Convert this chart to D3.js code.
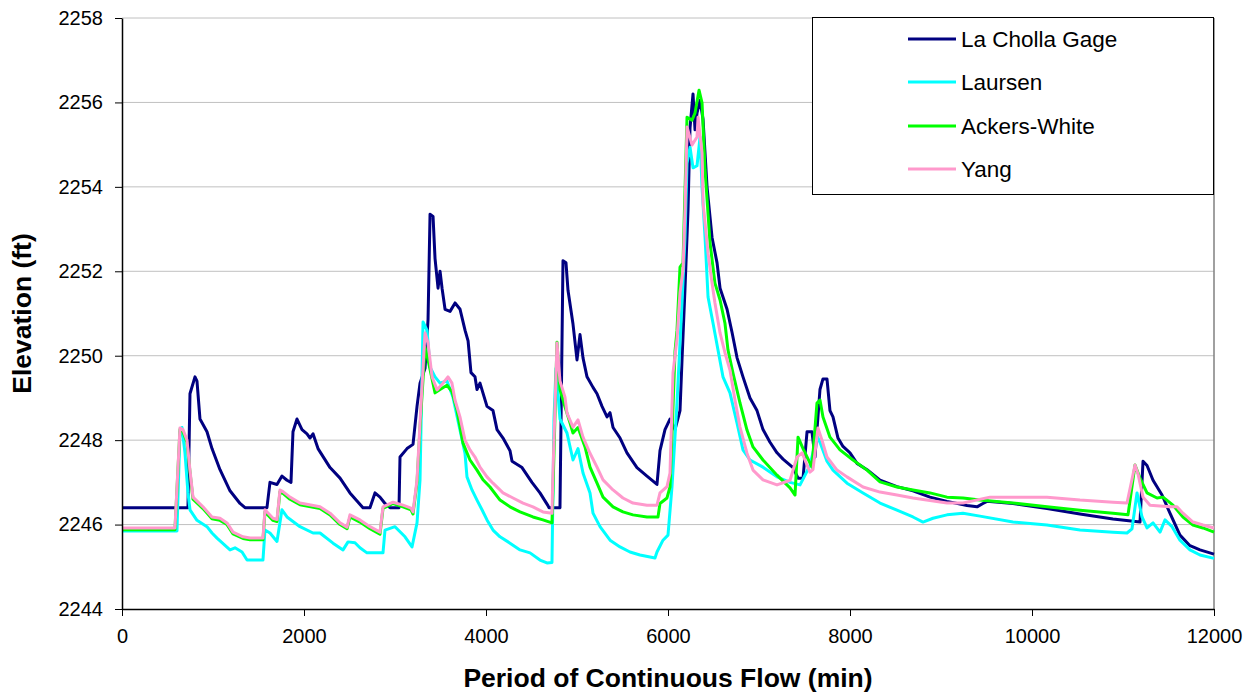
<html>
  <head>
    <script src="https://cdn.jsdelivr.net/npm/d3@7"></script>
    <style>
      body { margin: 0; background: #fff; }
      text { font-family: "Liberation Sans", Arial, sans-serif; }
    </style>
  </head>
  <body>
    <script>
      // series: [minutes, elevation ft]
      const laChollaGage = [
        [0,2246.4],[725,2246.4],[747,2249.1],[802,2249.5],[824,2249.4],[857,2248.5],[934,2248.2],[989,2247.8],
        [1077,2247.3],[1187,2246.8],[1297,2246.5],[1352,2246.4],[1593,2246.4],[1626,2247.0],[1703,2246.95],
        [1758,2247.15],[1813,2247.05],[1857,2247.0],[1879,2248.2],[1923,2248.5],[1978,2248.25],[2033,2248.15],
        [2066,2248.05],[2099,2248.15],[2154,2247.8],[2286,2247.35],[2396,2247.1],[2505,2246.75],[2648,2246.4],
        [2725,2246.4],[2780,2246.75],[2835,2246.65],[2890,2246.5],[2945,2246.4],[3044,2246.4],[3055,2247.6],
        [3132,2247.8],[3198,2247.9],[3242,2248.8],[3275,2249.35],[3330,2249.7],[3363,2250.85],[3385,2253.35],
        [3418,2253.3],[3440,2252.3],[3473,2251.6],[3495,2252.0],[3517,2251.6],[3550,2251.1],[3605,2251.05],
        [3660,2251.25],[3715,2251.1],[3770,2250.6],[3803,2250.35],[3835,2249.6],[3879,2249.5],[3901,2249.2],
        [3934,2249.35],[4011,2248.8],[4077,2248.7],[4121,2248.25],[4187,2248.05],[4264,2247.75],[4286,2247.5],
        [4396,2247.35],[4505,2247.0],[4593,2246.75],[4681,2246.45],[4692,2246.4],[4813,2246.4],[4846,2252.25],
        [4879,2252.2],[4901,2251.55],[4956,2250.75],[5000,2249.9],[5033,2250.5],[5066,2249.95],[5110,2249.5],
        [5176,2249.25],[5220,2249.1],[5275,2248.8],[5330,2248.55],[5363,2248.65],[5396,2248.3],[5473,2248.05],
        [5549,2247.7],[5659,2247.35],[5769,2247.15],[5879,2246.95],[5912,2247.75],[5967,2248.25],[6022,2248.5],
        [6077,2248.25],[6132,2248.7],[6154,2249.9],[6187,2251.6],[6220,2253.45],[6242,2255.4],[6275,2256.2],
        [6297,2255.35],[6319,2255.75],[6352,2256.05],[6385,2255.6],[6429,2254.0],[6484,2252.8],[6539,2252.2],
        [6572,2251.6],[6649,2251.1],[6704,2250.55],[6759,2249.95],[6824,2249.5],[6901,2249.0],[6978,2248.7],
        [7044,2248.25],[7121,2247.95],[7198,2247.7],[7264,2247.55],[7374,2247.35],[7429,2247.1],[7484,2247.1],
        [7528,2248.2],[7582,2248.2],[7615,2247.6],[7670,2249.2],[7703,2249.45],[7747,2249.45],[7780,2248.7],
        [7813,2248.55],[7868,2248.05],[7923,2247.85],[8000,2247.7],[8077,2247.45],[8187,2247.3],[8330,2247.05],
        [8516,2246.9],[8692,2246.8],[8879,2246.65],[9066,2246.55],[9286,2246.45],[9396,2246.42],[9461,2246.5],
        [9505,2246.55],[9791,2246.5],[10165,2246.38],[10527,2246.25],[10890,2246.13],[11187,2246.06],
        [11220,2247.5],[11264,2247.4],[11330,2247.05],[11429,2246.7],[11516,2246.27],[11626,2245.75],
        [11736,2245.5],[11846,2245.4],[12000,2245.3]
      ];
      const laursen = [
        [0,2245.85],[604,2245.85],[637,2248.2],[659,2248.3],[692,2247.7],[725,2246.75],[747,2246.35],[824,2246.1],
        [934,2245.95],[989,2245.8],[1044,2245.68],[1187,2245.4],[1242,2245.45],[1319,2245.35],[1374,2245.16],
        [1549,2245.16],[1571,2245.87],[1626,2245.8],[1703,2245.6],[1758,2246.35],[1813,2246.18],[1956,2245.95],
        [2099,2245.8],[2176,2245.8],[2319,2245.56],[2429,2245.4],[2484,2245.59],[2560,2245.57],[2615,2245.45],
        [2692,2245.33],[2868,2245.33],[2890,2245.87],[3000,2245.95],[3110,2245.71],[3187,2245.47],[3242,2246.04],
        [3275,2247.06],[3308,2250.8],[3352,2250.6],[3385,2249.73],[3440,2249.5],[3495,2249.35],[3571,2249.4],
        [3637,2249.02],[3714,2248.24],[3769,2247.69],[3791,2247.13],[3846,2246.82],[3901,2246.58],[3956,2246.35],
        [4011,2246.11],[4077,2245.87],[4154,2245.71],[4264,2245.56],[4374,2245.4],[4484,2245.33],[4593,2245.16],
        [4670,2245.09],[4725,2245.1],[4747,2248.5],[4769,2249.7],[4813,2248.5],[4890,2248.17],[4956,2247.53],
        [5011,2247.8],[5066,2247.22],[5143,2246.75],[5176,2246.27],[5253,2245.95],[5363,2245.63],[5473,2245.47],
        [5582,2245.35],[5692,2245.28],[5857,2245.21],[5879,2245.35],[5945,2245.63],[6000,2245.75],[6044,2246.9],
        [6099,2248.88],[6154,2251.25],[6187,2252.81],[6209,2254.56],[6242,2254.94],[6275,2254.45],[6319,2254.5],
        [6352,2255.18],[6374,2254.0],[6407,2252.81],[6440,2251.39],[6495,2250.77],[6549,2250.14],[6604,2249.5],
        [6681,2249.12],[6758,2248.41],[6824,2247.77],[6901,2247.53],[7044,2247.36],[7198,2247.13],[7341,2247.0],
        [7451,2246.94],[7560,2247.4],[7637,2248.1],[7670,2247.95],[7747,2247.5],[7813,2247.29],[7967,2246.98],
        [8143,2246.75],[8330,2246.51],[8516,2246.34],[8692,2246.18],[8802,2246.06],[8912,2246.15],[9066,2246.23],
        [9242,2246.27],[9428,2246.2],[9791,2246.06],[10165,2245.99],[10527,2245.87],[10890,2245.82],
        [11044,2245.8],[11099,2245.9],[11154,2246.75],[11209,2246.18],[11264,2245.92],[11330,2246.04],
        [11407,2245.82],[11462,2246.11],[11539,2245.95],[11626,2245.63],[11736,2245.4],[11846,2245.28],[12000,2245.2]
      ];
      const ackersWhite = [
        [0,2245.88],[582,2245.88],[637,2248.25],[670,2248.2],[714,2247.95],[747,2247.25],[780,2246.6],[890,2246.38],
        [989,2246.14],[1077,2246.1],[1154,2246.0],[1220,2245.78],[1330,2245.67],[1407,2245.64],[1549,2245.64],
        [1571,2246.3],[1659,2246.1],[1703,2246.07],[1736,2246.78],[1769,2246.74],[1846,2246.6],[1956,2246.47],
        [2176,2246.38],[2286,2246.23],[2396,2246.0],[2473,2245.9],[2505,2246.18],[2615,2246.06],[2725,2245.9],
        [2835,2245.77],[2868,2246.38],[2978,2246.5],[3088,2246.42],[3176,2246.35],[3198,2246.25],[3242,2247.0],
        [3275,2248.3],[3330,2250.2],[3363,2249.9],[3440,2249.12],[3495,2249.2],[3571,2249.3],[3626,2249.15],
        [3681,2248.71],[3747,2247.93],[3824,2247.53],[3901,2247.29],[3967,2247.06],[4044,2246.89],[4154,2246.58],
        [4264,2246.42],[4374,2246.3],[4516,2246.18],[4626,2246.11],[4725,2246.04],[4736,2246.8],[4780,2250.32],
        [4813,2249.2],[4868,2248.79],[4923,2248.41],[4956,2248.17],[5011,2248.3],[5088,2247.84],[5143,2247.36],
        [5220,2246.98],[5286,2246.65],[5396,2246.42],[5505,2246.3],[5615,2246.23],[5769,2246.18],[5890,2246.18],
        [5912,2246.5],[5989,2246.63],[6022,2246.89],[6055,2248.79],[6077,2250.1],[6099,2250.6],[6132,2252.1],
        [6165,2252.2],[6209,2255.65],[6264,2255.58],[6297,2255.75],[6341,2256.29],[6374,2255.99],[6407,2254.4],
        [6462,2252.67],[6516,2251.72],[6572,2251.32],[6626,2250.77],[6659,2250.14],[6714,2249.59],[6791,2248.88],
        [6868,2248.24],[6934,2247.84],[7044,2247.53],[7198,2247.17],[7341,2246.87],[7396,2246.7],[7429,2248.07],
        [7484,2247.8],[7582,2247.36],[7637,2248.88],[7670,2248.95],[7703,2248.55],[7780,2248.07],[7890,2247.77],
        [8033,2247.53],[8187,2247.29],[8330,2247.01],[8516,2246.89],[8692,2246.82],[8879,2246.75],[9066,2246.65],
        [9242,2246.63],[9428,2246.58],[9791,2246.51],[10165,2246.42],[10527,2246.34],[10890,2246.27],
        [11055,2246.23],[11132,2247.41],[11187,2247.1],[11264,2246.75],[11374,2246.63],[11440,2246.65],
        [11549,2246.46],[11659,2246.18],[11769,2245.99],[11879,2245.92],[12000,2245.82]
      ];
      const yang = [
        [0,2245.92],[582,2245.92],[637,2248.29],[670,2248.25],[714,2248.0],[747,2247.29],[780,2246.65],[890,2246.42],
        [989,2246.18],[1077,2246.15],[1154,2246.04],[1220,2245.82],[1330,2245.71],[1407,2245.68],[1549,2245.68],
        [1571,2246.35],[1659,2246.15],[1703,2246.12],[1736,2246.82],[1769,2246.78],[1846,2246.65],[1956,2246.51],
        [2176,2246.42],[2286,2246.27],[2396,2246.04],[2473,2245.94],[2505,2246.23],[2615,2246.11],[2725,2245.95],
        [2835,2245.82],[2868,2246.42],[2978,2246.53],[3088,2246.46],[3176,2246.39],[3198,2246.3],[3242,2247.06],
        [3275,2248.41],[3330,2250.54],[3363,2250.3],[3407,2249.5],[3462,2249.19],[3495,2249.27],[3527,2249.35],
        [3582,2249.5],[3626,2249.35],[3659,2248.95],[3714,2248.55],[3769,2248.0],[3824,2247.77],[3879,2247.6],
        [3934,2247.36],[4011,2247.13],[4077,2246.98],[4187,2246.75],[4297,2246.63],[4407,2246.51],[4516,2246.42],
        [4626,2246.3],[4725,2246.27],[4736,2247.22],[4780,2250.3],[4813,2249.4],[4868,2249.02],[4890,2248.64],
        [4956,2248.31],[5011,2248.48],[5066,2248.07],[5143,2247.69],[5220,2247.36],[5286,2247.06],[5396,2246.82],
        [5505,2246.63],[5615,2246.51],[5769,2246.46],[5879,2246.46],[5912,2246.75],[5989,2246.9],[6022,2247.22],
        [6055,2249.59],[6099,2250.4],[6132,2251.49],[6165,2252.03],[6187,2253.45],[6209,2255.42],[6264,2254.99],
        [6319,2255.18],[6330,2255.65],[6374,2254.8],[6385,2253.62],[6440,2252.43],[6484,2251.72],[6516,2251.25],
        [6572,2250.54],[6626,2250.07],[6681,2249.66],[6736,2248.95],[6791,2248.31],[6868,2247.69],[6934,2247.29],
        [7044,2247.06],[7198,2246.94],[7341,2247.05],[7418,2247.6],[7473,2247.7],[7560,2247.24],[7593,2247.3],
        [7648,2248.29],[7692,2248.0],[7747,2247.6],[7857,2247.29],[7967,2247.13],[8143,2246.89],[8330,2246.77],
        [8516,2246.7],[8692,2246.63],[9066,2246.51],[9242,2246.51],[9538,2246.65],[10165,2246.65],[10527,2246.58],
        [10890,2246.53],[11044,2246.51],[11132,2247.41],[11165,2247.2],[11220,2246.65],[11297,2246.46],
        [11516,2246.42],[11593,2246.42],[11659,2246.27],[11769,2246.06],[11879,2245.99],[12000,2245.92]
      ];

      const seriesNames = ["La Cholla Gage", "Laursen", "Ackers-White", "Yang"];
      const seriesColors = ["#000080", "#00ffff", "#00ff00", "#ff99cc"];
      const seriesData = [laChollaGage, laursen, ackersWhite, yang];
      const xTicks = [0, 2000, 4000, 6000, 8000, 10000, 12000];
      const yTicks = [2244, 2246, 2248, 2250, 2252, 2254, 2256, 2258];

      const width = 1260, height = 694;
      const margin = { top: 18, right: 46, bottom: 85, left: 122 };

      const svg = d3.select("body").append("svg")
          .attr("width", width)
          .attr("height", height);

      const x = d3.scaleLinear().domain([0, 12000]).range([margin.left, width - margin.right]);
      const y = d3.scaleLinear().domain([2244, 2258]).range([height - margin.bottom, margin.top]);

      // gridlines
      svg.append("g")
          .selectAll("line")
          .data(yTicks.slice(1))
          .join("line")
          .attr("x1", x(0)).attr("x2", x(12000))
          .attr("y1", d => y(d)).attr("y2", d => y(d))
          .attr("stroke", "#c0c0c0")
          .attr("stroke-width", 1);

      // right frame
      svg.append("line")
          .attr("x1", x(12000)).attr("x2", x(12000))
          .attr("y1", y(2258)).attr("y2", y(2244))
          .attr("stroke", "#808080")
          .attr("stroke-width", 1.5);

      const line = d3.line()
          .x(d => x(d[0]))
          .y(d => y(d[1]));

      seriesData.forEach((data, i) => {
        svg.append("path")
            .datum(data)
            .attr("fill", "none")
            .attr("stroke", seriesColors[i])
            .attr("stroke-width", 3)
            .attr("stroke-linejoin", "round")
            .attr("d", line);
      });

      const xAxis = svg.append("g")
          .attr("transform", `translate(0,${y(2244)})`)
          .call(d3.axisBottom(x).tickValues(xTicks).tickSize(7).tickSizeOuter(0).tickPadding(13).tickFormat(d3.format("d")));
      const yAxis = svg.append("g")
          .attr("transform", `translate(${x(0)},0)`)
          .call(d3.axisLeft(y).tickValues(yTicks).tickSize(7).tickSizeOuter(0).tickPadding(12).tickFormat(d3.format("d")));

      [xAxis, yAxis].forEach(g => {
        g.select(".domain").attr("stroke", "#000").attr("stroke-width", 1.5);
        g.selectAll(".tick line").attr("stroke", "#000");
        g.selectAll(".tick text")
            .attr("fill", "#000")
            .style("font-family", "'Liberation Sans', Arial, sans-serif")
            .style("font-size", "20px");
      });

      svg.append("text")
          .attr("x", (x(0) + x(12000)) / 2)
          .attr("y", 687)
          .attr("text-anchor", "middle")
          .style("font-size", "26.5px")
          .style("font-weight", "bold")
          .text("Period of Continuous Flow (min)");

      svg.append("text")
          .attr("transform", `translate(31,${(y(2244) + y(2258)) / 2}) rotate(-90)`)
          .attr("text-anchor", "middle")
          .style("font-size", "26.5px")
          .style("font-weight", "bold")
          .text("Elevation (ft)");

      // legend
      const legend = svg.append("g");
      legend.append("rect")
          .attr("x", 812.5).attr("y", 17.5)
          .attr("width", 401).attr("height", 177)
          .attr("fill", "#fff")
          .attr("stroke", "#000")
          .attr("stroke-width", 1);

      const rowY = [39, 82, 126, 169];
      seriesNames.forEach((name, i) => {
        legend.append("line")
            .attr("x1", 908).attr("x2", 956)
            .attr("y1", rowY[i]).attr("y2", rowY[i])
            .attr("stroke", seriesColors[i])
            .attr("stroke-width", 3);
        legend.append("text")
            .attr("x", 961)
            .attr("y", rowY[i] + 8)
            .style("font-size", "22.5px")
            .text(name);
      });
    </script>
  </body>
</html>
